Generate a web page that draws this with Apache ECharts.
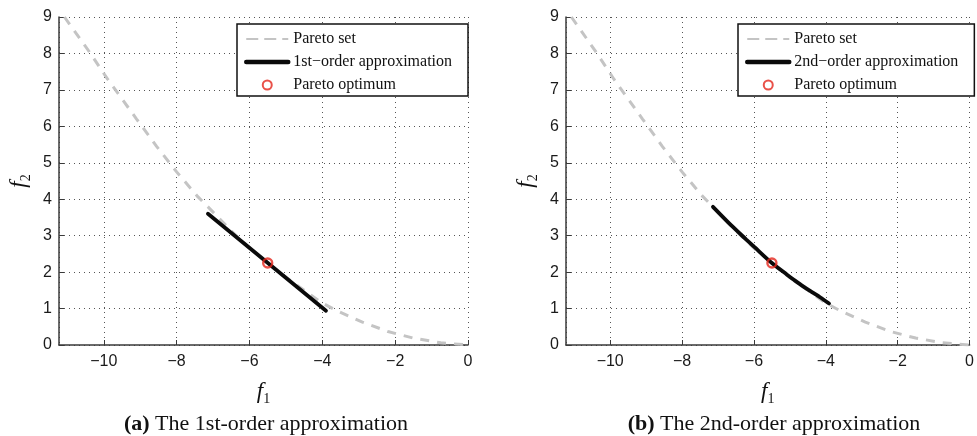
<!DOCTYPE html>
<html>
<head>
<meta charset="utf-8">
<script src="https://cdn.jsdelivr.net/npm/echarts@6/dist/echarts.min.js"></script>
<style>
  html, body { margin: 0; padding: 0; background: #fff; }
  #chart { width: 977px; height: 436px; }
</style>
</head>
<body>
<div id="chart"></div>
<script>
// Pareto set (f1, f2)
const paretoF1 = [-11.08, -10.38, -9.9, -9.1, -8.55, -8.0, -7.42, -7.1, -6.5, -6.0, -5.5, -5.0, -4.5, -4.0, -3.6, -2.9, -2.2, -1.5, -0.75, 0];
const paretoF2 = [9.0, 8.02, 7.3, 6.2, 5.45, 4.75, 4.07, 3.75, 3.13, 2.66, 2.25, 1.86, 1.5, 1.15, 0.94, 0.63, 0.37, 0.19, 0.06, 0];

// 1st-order (linear) approximation around the optimum
const firstOrderF1 = [-7.14, -3.9];
const firstOrderF2 = [3.6, 0.94];

// 2nd-order approximation around the optimum
const secondOrderF1 = [-7.14, -6.63, -6.22, -5.99, -5.5, -5.08, -4.89, -4.62, -4.35, -4.16, -3.91];
const secondOrderF2 = [3.79, 3.28, 2.9, 2.69, 2.25, 1.93, 1.79, 1.6, 1.43, 1.31, 1.14];

// Pareto optimum
const optimumF1 = [-5.5];
const optimumF2 = [2.25];

// Axis ranges
const xRange = [-11.23, 0];
const yRange = [0, 9];

// Captions and legend names
const captions = [
  ['(a)', 'The 1st-order approximation'],
  ['(b)', 'The 2nd-order approximation']
];
const paretoName = 'Pareto set';
const approxNames = ['1st\u2212order approximation', '2nd\u2212order approximation'];
const optimumName = 'Pareto optimum';

const zip = (a, b) => a.map((v, i) => [v, b[i]]);

const SANS = 'Liberation Sans';
const SERIF = 'Liberation Serif';
const AXIS_COLOR = '#3a3a3a';
const HIDDEN = 'rgba(0,0,0,0)';

const minusFmt = v => (v < 0 ? '\u2212' + Math.abs(v) : String(v));

const nameRich = {
  i: { fontFamily: SERIF, fontStyle: 'italic', fontSize: 23, lineHeight: 28, color: '#111', verticalAlign: 'middle' },
  s: { fontFamily: SERIF, fontSize: 14, lineHeight: 19, color: '#111', verticalAlign: 'bottom' }
};

function makeXAxis(gridIndex) {
  return {
    type: 'value', gridIndex, min: xRange[0], max: xRange[1],
    axisLine: { show: true, onZero: false, lineStyle: { color: AXIS_COLOR, width: 1.5 } },
    axisTick: { show: true, inside: true, length: 5, lineStyle: { color: AXIS_COLOR, width: 1 } },
    axisLabel: { showMinLabel: false, margin: 9, formatter: minusFmt, fontFamily: SANS, fontSize: 16, color: '#1a1a1a' },
    splitLine: { show: true, lineStyle: { color: '#555', type: [1, 4], width: 1 } },
    name: '{i|f}{s|1}', nameLocation: 'middle', nameGap: 33,
    nameTextStyle: { rich: nameRich }
  };
}

function makeYAxis(gridIndex) {
  return {
    type: 'value', gridIndex, min: yRange[0], max: yRange[1], interval: 1,
    axisLine: { show: true, onZero: false, lineStyle: { color: AXIS_COLOR, width: 1.5 } },
    axisTick: { show: true, inside: true, length: 5, lineStyle: { color: AXIS_COLOR, width: 1 } },
    axisLabel: { margin: 7, formatter: minusFmt, fontFamily: SANS, fontSize: 16, color: '#1a1a1a' },
    splitLine: { show: true, lineStyle: { color: '#555', type: [1, 4], width: 1 } },
    name: '{i|f}{s|2}', nameLocation: 'middle', nameRotate: 90, nameGap: 26,
    nameTextStyle: { rich: nameRich }
  };
}

function makeSeries(idx, approxF1, approxF2) {
  return [
    {
      name: paretoName, type: 'line', xAxisIndex: idx, yAxisIndex: idx,
      data: zip(paretoF1, paretoF2), symbol: 'none', silent: true,
      itemStyle: { color: HIDDEN, borderWidth: 0 },
      lineStyle: { color: '#c4c4c4', width: 3, type: [9, 8] }, z: 2
    },
    {
      name: approxNames[idx], type: 'line', xAxisIndex: idx, yAxisIndex: idx,
      data: zip(approxF1, approxF2), symbol: 'none', silent: true, smooth: idx === 1 ? 0.3 : false,
      itemStyle: { color: HIDDEN, borderWidth: 0 },
      lineStyle: { color: '#0a0a0a', width: 3.8, cap: 'round' }, z: 3
    },
    {
      name: optimumName, type: 'scatter', xAxisIndex: idx, yAxisIndex: idx,
      data: zip(optimumF1, optimumF2), symbol: 'circle', symbolSize: 9, silent: true,
      itemStyle: { color: HIDDEN, borderColor: '#e3261c', borderWidth: 2.4 }, z: 4
    }
  ];
}

function makeLegend(idx, left) {
  return {
    data: [
      { name: paretoName, lineStyle: { type: [12, 6] } },
      { name: approxNames[idx], lineStyle: { width: 4.5 } },
      { name: optimumName }
    ],
    orient: 'vertical', left, top: 24,
    itemWidth: 42, itemHeight: 9, itemGap: 7,
    padding: [7, 16, 3, 7],
    backgroundColor: '#fff', borderColor: '#111', borderWidth: 1.5,
    selectedMode: false,
    textStyle: { fontFamily: SERIF, fontSize: 16, lineHeight: 16, color: '#111' }
  };
}

function makeCaption(idx, center) {
  return {
    text: '{b|' + captions[idx][0] + '} ' + captions[idx][1],
    left: center, top: 408, textAlign: 'center',
    textStyle: {
      fontFamily: SERIF, fontSize: 22, fontWeight: 'normal', color: '#111',
      rich: { b: { fontFamily: SERIF, fontSize: 22, fontWeight: 'bold', color: '#111' } }
    }
  };
}

const chart = echarts.init(document.getElementById('chart'), null, { renderer: 'canvas' });
chart.setOption({
  animation: false,
  backgroundColor: '#fff',
  title: [makeCaption(0, 261), makeCaption(1, 769)],
  grid: [
    { left: 59, top: 17, width: 409, height: 328 },
    { left: 566, top: 17, width: 409, height: 328 }
  ],
  xAxis: [makeXAxis(0), makeXAxis(1)],
  yAxis: [makeYAxis(0), makeYAxis(1)],
  legend: [makeLegend(0, 237), makeLegend(1, 738)],
  series: [
    ...makeSeries(0, firstOrderF1, firstOrderF2),
    ...makeSeries(1, secondOrderF1, secondOrderF2)
  ]
});
</script>
</body>
</html>
